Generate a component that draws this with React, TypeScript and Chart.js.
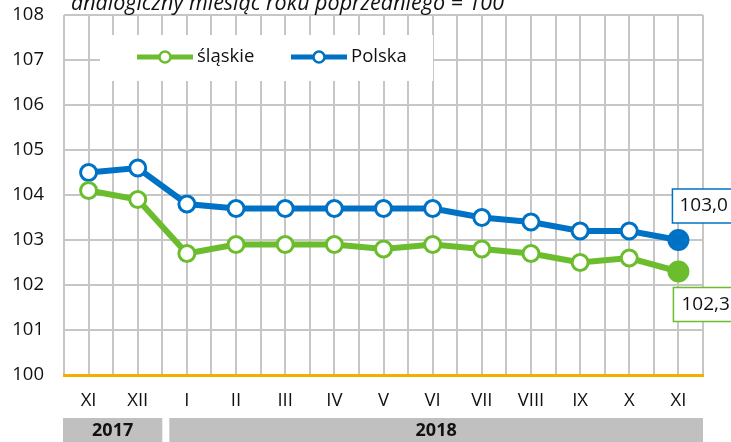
import React, { useEffect, useRef } from "react";
import { Chart, registerables } from "chart.js";

Chart.register(...registerables);

const months = ["XI", "XII", "I", "II", "III", "IV", "V", "VI", "VII", "VIII", "IX", "X", "XI"];
const slaskie = [104.1, 103.9, 102.7, 102.9, 102.9, 102.9, 102.8, 102.9, 102.8, 102.7, 102.5, 102.6, 102.3];
const polska = [104.5, 104.6, 103.8, 103.7, 103.7, 103.7, 103.7, 103.7, 103.5, 103.4, 103.2, 103.2, 103.0];
const seriesNames = ["śląskie", "Polska"];
const yearLabels = ["2017", "2018"];
const yearFrom = [0, 2];
const yearTo = [1, 12];
const yMin = 100;
const yMax = 108;
const titleText = "analogiczny miesiąc roku poprzedniego = 100";

const GREEN = "#6cbd2d";
const BLUE = "#0072c6";
const GRID = "#c6c6c6";
const FONT = "'Open Sans', 'Noto Sans', sans-serif";

const fmt = (v: number) => v.toFixed(1).replace(".", ",");

const decorPlugin = {
  id: "decor",
  beforeDatasetsDraw(chart: any) {
    const ctx = chart.ctx;
    ctx.save();
    ctx.fillStyle = "#fff";
    ctx.fillRect(100, 35, 333, 46);
    const items = [
      { name: chart.data.datasets[0].label, color: GREEN, x: 137 },
      { name: chart.data.datasets[1].label, color: BLUE, x: 291 },
    ];
    const ly = 57;
    for (const it of items) {
      ctx.strokeStyle = it.color;
      ctx.lineWidth = 5;
      ctx.beginPath();
      ctx.moveTo(it.x, ly);
      ctx.lineTo(it.x + 56, ly);
      ctx.stroke();
      ctx.beginPath();
      ctx.arc(it.x + 28, ly, 5.5, 0, Math.PI * 2);
      ctx.fillStyle = "#fff";
      ctx.fill();
      ctx.lineWidth = 2.5;
      ctx.stroke();
      ctx.fillStyle = "#111";
      ctx.font = `18.5px ${FONT}`;
      ctx.textAlign = "left";
      ctx.textBaseline = "middle";
      ctx.fillText(it.name, it.x + 60, ly);
    }
    ctx.restore();
  },
  afterDraw(chart: any) {
    const ctx = chart.ctx;
    const xs = chart.scales.x;
    const ys = chart.scales.y;
    ctx.save();
    ctx.fillStyle = "#111";
    ctx.font = `italic 21.5px ${FONT}`;
    ctx.textAlign = "left";
    ctx.textBaseline = "alphabetic";
    ctx.fillText(titleText, 71, 10);

    const last = months.length - 1;
    const px = xs.getPixelForValue(last);
    const boxes = [
      { v: polska[last], color: BLUE, dy0: -51, dy1: -17, dx: -6, tx: 7 },
      { v: slaskie[last], color: GREEN, dy0: 16, dy1: 50, dx: -5, tx: 8 },
    ];
    for (const b of boxes) {
      const py = ys.getPixelForValue(b.v);
      const x0 = px + b.dx;
      const y0 = py + b.dy0;
      const h = b.dy1 - b.dy0;
      ctx.fillStyle = "#fff";
      ctx.fillRect(x0, y0, 80, h);
      ctx.strokeStyle = b.color;
      ctx.lineWidth = 1.5;
      ctx.strokeRect(x0, y0, 80, h);
      ctx.fillStyle = "#111";
      ctx.font = `19px ${FONT}`;
      ctx.textAlign = "left";
      ctx.textBaseline = "middle";
      ctx.fillText(fmt(b.v), x0 + b.tx, y0 + h / 2);
    }

    const half = (xs.getPixelForValue(1) - xs.getPixelForValue(0)) / 2;
    for (let i = 0; i < yearLabels.length; i++) {
      const x0 = xs.getPixelForValue(yearFrom[i]) - half + (i > 0 ? 7 : -1);
      const x1 = xs.getPixelForValue(yearTo[i]) + half;
      ctx.fillStyle = "#c0c0c0";
      ctx.fillRect(x0, 418, x1 - x0, 24);
      ctx.fillStyle = "#111";
      ctx.font = `bold 18px ${FONT}`;
      ctx.textAlign = "center";
      ctx.textBaseline = "middle";
      ctx.fillText(yearLabels[i], (x0 + x1) / 2, 431);
    }
    ctx.restore();
  },
};

export default function App() {
  const ref = useRef<HTMLCanvasElement | null>(null);
  useEffect(() => {
    if (!ref.current) return;
    const last = months.length - 1;
    const ptBg = (c: string) => months.map((_, i) => (i === last ? c : "#fff"));
    const ptRad = months.map((_, i) => (i === last ? 9.5 : 8));
    const mk = (label: string, data: number[], color: string) => ({
      label,
      data,
      borderColor: color,
      borderWidth: 6,
      pointRadius: ptRad,
      pointBorderWidth: 3,
      pointBackgroundColor: ptBg(color),
      pointBorderColor: color,
      tension: 0,
      xAxisID: "x",
    });
    const chart = new Chart(ref.current, {
      type: "line",
      data: {
        labels: months,
        datasets: [mk(seriesNames[0], slaskie, GREEN), mk(seriesNames[1], polska, BLUE)],
      },
      options: {
        responsive: false,
        animation: false,
        layout: { padding: { top: 15, right: 28, left: 0, bottom: 0 } },
        plugins: {
          legend: { display: false },
          tooltip: { enabled: false },
        },
        scales: {
          x: {
            type: "category",
            position: "bottom",
            offset: true,
            grid: { display: false, drawTicks: false },
            border: { display: true, color: "#f0b000", width: 3 },
            ticks: { color: "#111", font: { family: FONT, size: 18.5 }, padding: 15, autoSkip: false, maxRotation: 0 },
            afterFit: (s: any) => { s.height = 67; s.paddingLeft = 0; s.paddingRight = 0; },
          },
          xg: {
            type: "linear",
            position: "bottom",
            min: 0,
            max: 26,
            grid: { display: true, color: GRID, lineWidth: 2, drawTicks: false },
            border: { display: false },
            ticks: { display: false, stepSize: 1, maxTicksLimit: 40 },
            afterFit: (s: any) => { s.height = 0; s.paddingLeft = 0; s.paddingRight = 0; },
          },
          y: {
            min: yMin,
            max: yMax,
            grid: { color: GRID, lineWidth: 2, drawTicks: false },
            border: { display: false },
            ticks: { stepSize: 1, color: "#111", font: { family: FONT, size: 18.5 }, padding: 20 },
            afterFit: (s: any) => { s.width = 64; s.paddingTop = 0; s.paddingBottom = 0; },
          },
        },
      },
      plugins: [decorPlugin],
    });
    return () => chart.destroy();
  }, []);
  return (
    <div style={{ position: "absolute", left: 0, top: 0, width: 731, height: 442, background: "#fff" }}>
      <canvas ref={ref} width={731} height={442} style={{ display: "block" }} />
    </div>
  );
}
